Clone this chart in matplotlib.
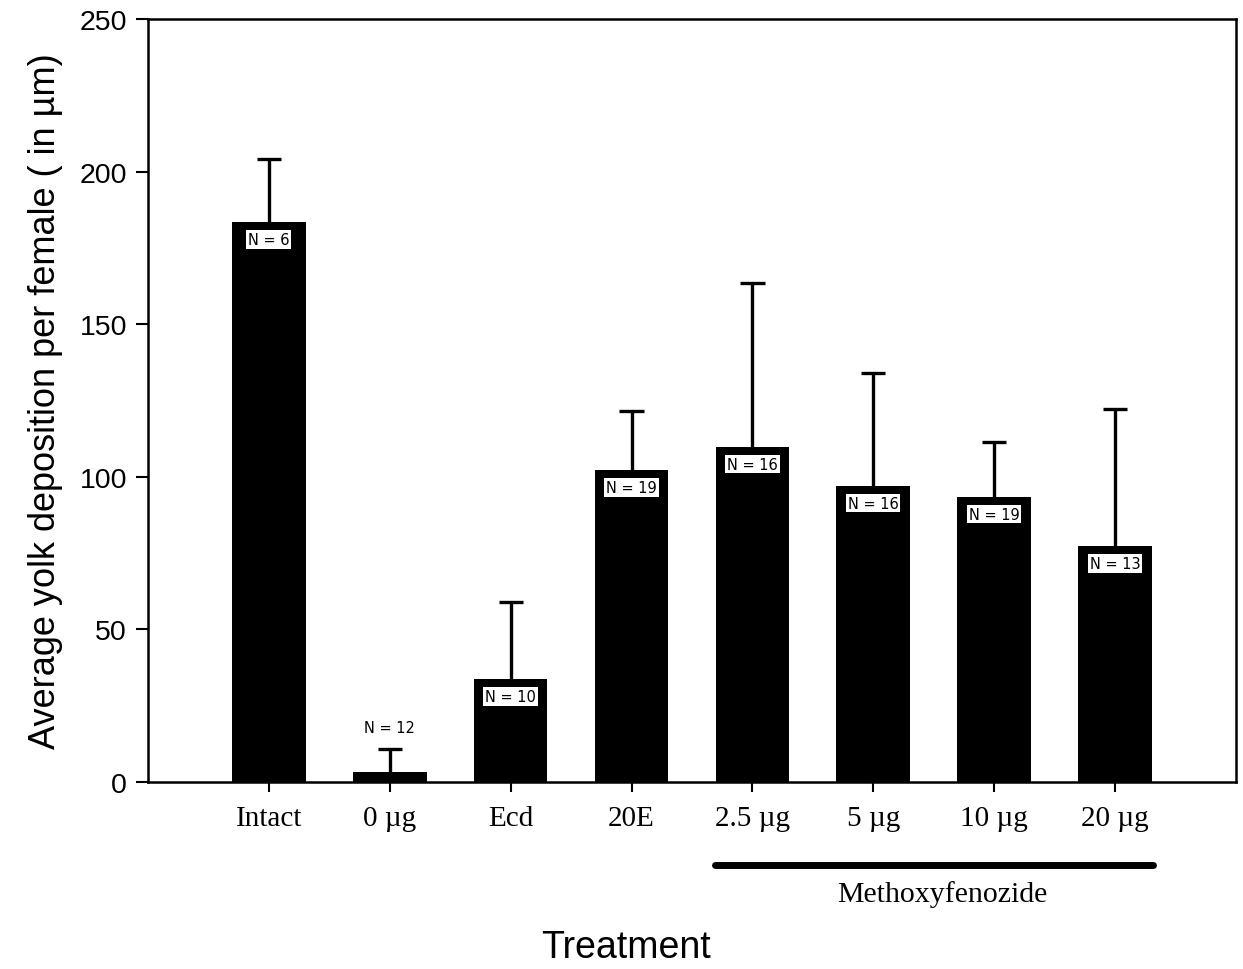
import numpy as np
import matplotlib.pyplot as plt
import matplotlib.transforms as mtransforms

# ---- data ----
treatments = ['Intact', '0 \u00b5g', 'Ecd', '20E', '2.5 \u00b5g', '5 \u00b5g', '10 \u00b5g', '20 \u00b5g']
yolk_mean = [183.5, 3.3, 33.7, 102.2, 109.8, 97.0, 93.4, 77.3]
yolk_err = [20.6, 7.5, 25.3, 19.4, 53.7, 37.0, 18.0, 44.9]
n_labels = ['N = 6', 'N = 12', 'N = 10', 'N = 19', 'N = 16', 'N = 16', 'N = 19', 'N = 13']
methoxy_group = ['2.5 \u00b5g', '20 \u00b5g']   # first and last of the bracketed doses

x = np.arange(len(treatments))
upper = np.array(yolk_mean) + np.array(yolk_err)

fig = plt.figure(figsize=(12.43, 9.7), dpi=100)
ax = fig.add_axes([0.119, 0.193, 0.8754, 0.7864])

ax.bar(x, yolk_mean, width=0.61, color='black', zorder=2)
# upper-only error bars with a cap at the top
ax.vlines(x, yolk_mean, upper, color='black', lw=2.4, zorder=3)
ax.hlines(upper, x - 0.1, x + 0.1, color='black', lw=2.4, zorder=3)

# sample sizes: inside the bar, or above the error bar for short bars
for xi, m, u, lab in zip(x, yolk_mean, upper, n_labels):
    if m < 20:
        ax.annotate(lab, (xi, u), xytext=(0, 10), textcoords='offset points',
                    ha='center', va='bottom', fontsize=10.5, family='DejaVu Sans')
    else:
        ax.annotate(lab, (xi, m), xytext=(0, -12.5), textcoords='offset points',
                    ha='center', va='center', fontsize=10.5, family='DejaVu Sans',
                    bbox=dict(boxstyle='square,pad=0.12', fc='white', ec='none'),
                    zorder=4)

ax.set_xlim(-1, 8)
ax.set_ylim(0, 250)
ax.set_yticks([0, 50, 100, 150, 200, 250])
ax.set_xticks(x)
ax.set_xticklabels(treatments, family='Liberation Serif', fontsize=21)
for lab in ax.get_yticklabels():
    lab.set_family('Liberation Sans')
    lab.set_fontsize(20.5)
ax.tick_params(axis='y', direction='out', length=9, width=1.5, pad=6)
ax.tick_params(axis='x', direction='out', length=7, width=1.5, pad=10)
for sp in ax.spines.values():
    sp.set_linewidth(1.8)

ax.set_ylabel('Average yolk deposition per female ( in \u00b5m)',
              family='Liberation Sans', fontsize=26, labelpad=12)
fig.text(626 / 1243, 1 - 948 / 970, 'Treatment', ha='center', va='center',
         family='Liberation Sans', fontsize=27)

# bracket under the methoxyfenozide doses
i0 = treatments.index(methoxy_group[0])
i1 = treatments.index(methoxy_group[1])
trans = mtransforms.blended_transform_factory(ax.transData, ax.transAxes)
ax.plot([i0 - 0.31, i1 + 0.31], [-0.109, -0.109], transform=trans, color='black',
        lw=5, solid_capstyle='round', clip_on=False)
ax.text((i0 + i1) / 2 + 0.07, -0.146, 'Methoxyfenozide', transform=trans,
        ha='center', va='center', family='Liberation Serif', fontsize=21.5)

fig.savefig('out.png', dpi=100)
